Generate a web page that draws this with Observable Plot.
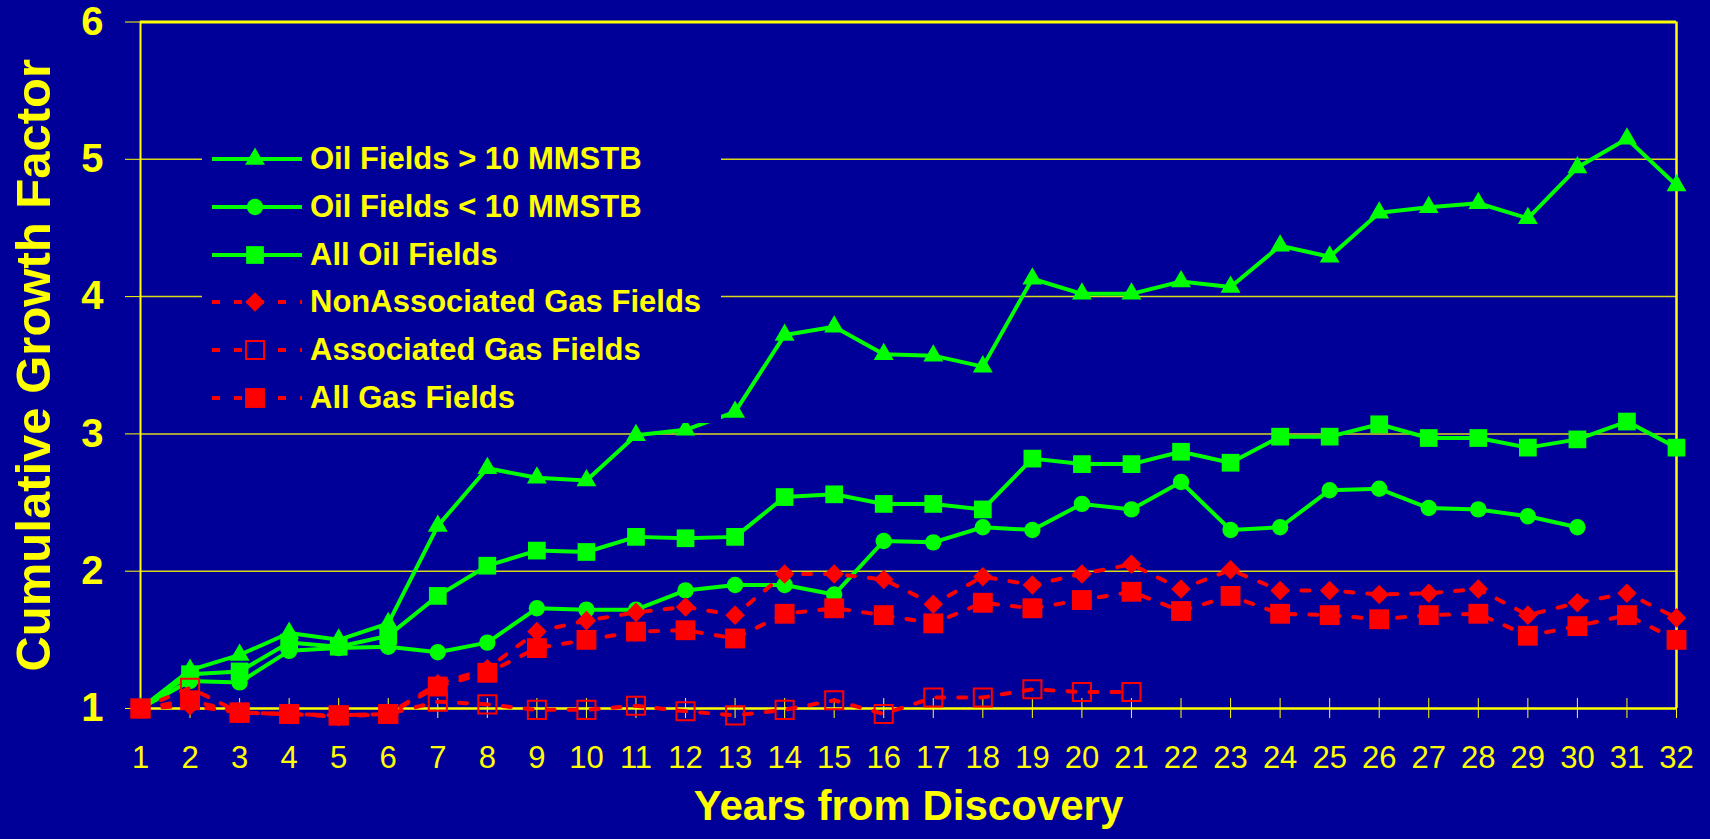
<!DOCTYPE html>
<html>
<head>
<meta charset="utf-8">
<script src="https://cdn.jsdelivr.net/npm/d3@7"></script>
<script src="https://cdn.jsdelivr.net/npm/@observablehq/plot@0.6"></script>
<style>
  html, body { margin: 0; padding: 0; background: #000099; overflow: hidden; }
  #wrap { position: relative; width: 1710px; height: 839px; }
  #wrap svg.chart { display: block; }
  #legend { position: absolute; left: 202px; top: 135px; width: 519px; height: 288px; background: #000099;
            font-family: "Liberation Sans", Arial, sans-serif; font-weight: bold; font-size: 31px; color: #ffff00; }
  .row { position: absolute; left: 10px; height: 48px; display: flex; align-items: center; white-space: nowrap; }
  .row svg { display: block; margin-right: 6px; }
</style>
</head>
<body>
<div id="wrap"></div>
<script>
// ---- data ----
const years = [1,2,3,4,5,6,7,8,9,10,11,12,13,14,15,16,17,18,19,20,21,22,23,24,25,26,27,28,29,30,31,32];
const yTicks = [1,2,3,4,5,6];
const gridTicks = [2,3,4,5];

const oilLarge = [1.00,1.28,1.39,1.55,1.50,1.62,2.33,2.75,2.68,2.66,2.99,3.03,3.16,3.72,3.78,3.58,3.57,3.49,4.13,4.02,4.02,4.11,4.07,4.37,4.29,4.61,4.65,4.68,4.57,4.94,5.15,4.81];
const oilSmall = [1.00,1.20,1.19,1.42,1.44,1.45,1.41,1.48,1.73,1.72,1.72,1.86,1.90,1.90,1.83,2.22,2.21,2.32,2.30,2.49,2.45,2.65,2.30,2.32,2.59,2.60,2.46,2.45,2.40,2.32,null,null];
const allOil   = [1.00,1.25,1.27,1.48,1.45,1.53,1.82,2.04,2.15,2.14,2.25,2.24,2.25,2.54,2.56,2.49,2.49,2.45,2.82,2.78,2.78,2.87,2.79,2.98,2.98,3.07,2.97,2.97,2.90,2.96,3.09,2.90];
const nonAssocGas = [1.00,1.02,0.97,0.96,0.94,0.96,1.18,1.29,1.56,1.64,1.70,1.74,1.68,1.98,1.98,1.94,1.76,1.96,1.90,1.98,2.05,1.87,2.01,1.86,1.86,1.83,1.84,1.87,1.68,1.77,1.84,1.66];
const assocGas = [1.00,1.15,0.97,0.96,0.95,0.96,1.05,1.03,0.99,0.99,1.02,0.98,0.95,0.99,1.06,0.96,1.08,1.08,1.14,1.12,1.12,null,null,null,null,null,null,null,null,null,null,null];
const allGas   = [1.00,1.06,0.97,0.96,0.95,0.96,1.16,1.26,1.44,1.50,1.56,1.57,1.51,1.69,1.73,1.68,1.62,1.77,1.73,1.79,1.85,1.71,1.82,1.69,1.68,1.65,1.68,1.69,1.53,1.60,1.68,1.50];

const seriesNames = ["Oil Fields > 10 MMSTB","Oil Fields < 10 MMSTB","All Oil Fields","NonAssociated Gas Fields","Associated Gas Fields","All Gas Fields"];

// ---- styles ----
const BG = "#000099", YEL = "#ffff00", GREEN = "#00ff00", RED = "#ff0000";
const DASH = "8,14";
const styles = [
  {values: oilLarge,    color: GREEN, dash: null, symbol: "triangle", r: 7.4, fill: GREEN, d3sym: d3.symbolTriangle},
  {values: oilSmall,    color: GREEN, dash: null, symbol: "circle",   r: 8.2, fill: GREEN, d3sym: d3.symbolCircle},
  {values: allOil,      color: GREEN, dash: null, symbol: "square",   r: 10,  fill: GREEN, d3sym: d3.symbolSquare},
  {values: nonAssocGas, color: RED,   dash: DASH, symbol: "diamond2", r: 8.8, fill: RED,   d3sym: d3.symbolDiamond2},
  {values: assocGas,    color: RED,   dash: DASH, symbol: "square",   r: 10.2, fill: "none", d3sym: d3.symbolSquare},
  {values: allGas,      color: RED,   dash: DASH, symbol: "square",   r: 11.2, fill: RED,   d3sym: d3.symbolSquare}
];

const seriesData = styles.map((s, k) => years
  .map((yr, i) => ({year: yr, value: s.values[i], series: seriesNames[k]}))
  .filter(d => d.value != null));

const marks = [
  Plot.gridY(gridTicks, {stroke: YEL, strokeOpacity: 0.85, strokeWidth: 1.5}),
  Plot.ruleY([6], {stroke: YEL, strokeWidth: 3}),
  Plot.ruleX([32], {stroke: YEL, strokeWidth: 2.5}),
  Plot.ruleX([1], {stroke: YEL, strokeWidth: 2}),
  Plot.ruleY([1], {stroke: YEL, strokeWidth: 2.5}),
  Plot.axisY({ticks: yTicks, tickSize: 15, tickPadding: 22, fontSize: 40, fontWeight: "bold", label: null, tickFormat: d => String(d)}),
  Plot.axisX({ticks: years, tickSize: 20, dy: -10, tickPadding: 27, fontSize: 31, label: null, tickFormat: d => String(d)}),
  Plot.text(["Cumulative Growth Factor"], {frameAnchor: "left", textAnchor: "middle", dx: -106, rotate: -90, fontSize: 49, fontWeight: "bold", fill: YEL}),
  Plot.text(["Years from Discovery"], {frameAnchor: "bottom", textAnchor: "middle", dy: 111, fontSize: 42, fontWeight: "bold", fill: YEL})
];

styles.forEach((s, k) => {
  const data = seriesData[k];
  marks.push(Plot.line(data, {x: "year", y: "value", stroke: s.color, strokeWidth: 4, strokeDasharray: s.dash, strokeLinejoin: "round"}));
  marks.push(Plot.dot(data, {x: "year", y: "value", symbol: s.symbol, r: s.r, fill: s.fill,
    stroke: s.fill === "none" ? s.color : null, strokeWidth: s.fill === "none" ? 2 : null}));
});

const chart = Plot.plot({
  width: 1710,
  height: 839,
  marginLeft: 140,
  marginRight: 34,
  marginTop: 21.5,
  marginBottom: 131,
  x: {domain: [1, 32], type: "linear"},
  y: {domain: [1, 6], type: "linear"},
  style: {background: BG, color: YEL, fontFamily: "'Liberation Sans', Arial, sans-serif"},
  marks
});
chart.classList.add("chart");
const wrap = document.getElementById("wrap");
wrap.appendChild(chart);

// ---- legend (HTML overlay inside the plot area) ----
const legend = document.createElement("div");
legend.id = "legend";
styles.forEach((s, k) => {
  const row = document.createElement("div");
  row.className = "row";
  row.style.top = (k * 47.8) + "px";
  const sw = d3.create("svg").attr("width", 92).attr("height", 30);
  sw.append("line").attr("x1", 0).attr("x2", 90).attr("y1", 15).attr("y2", 15)
    .attr("stroke", s.color).attr("stroke-width", 4).attr("stroke-dasharray", s.dash);
  const size = Math.PI * s.r * s.r;
  sw.append("path").attr("transform", "translate(43,15)")
    .attr("d", d3.symbol(s.d3sym, size)())
    .attr("fill", s.fill === "none" ? BG : s.fill)
    .attr("stroke", s.fill === "none" ? s.color : "none")
    .attr("stroke-width", 2);
  row.appendChild(sw.node());
  const t = document.createElement("span");
  t.textContent = seriesNames[k];
  row.appendChild(t);
  legend.appendChild(row);
});
wrap.appendChild(legend);
</script>
</body>
</html>
